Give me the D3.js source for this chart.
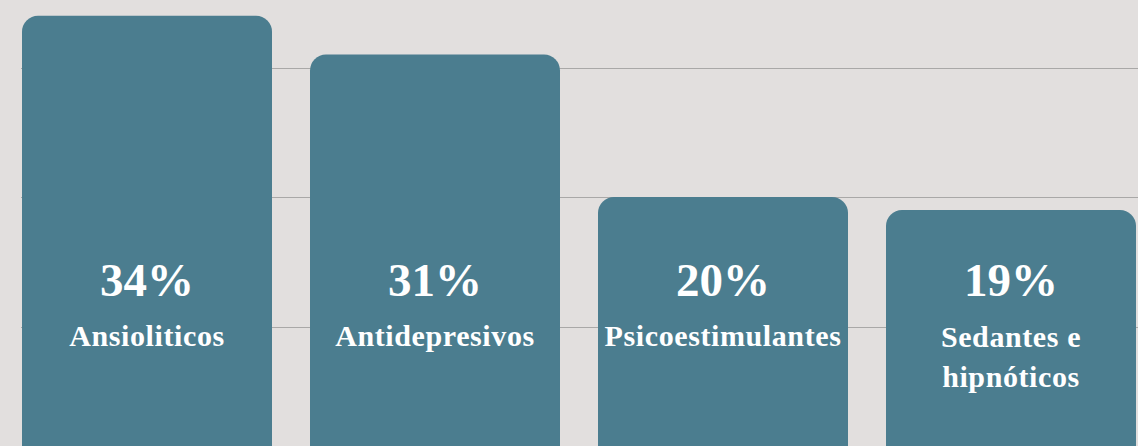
<!DOCTYPE html>
<html><head><meta charset="utf-8">
<script src="https://cdn.jsdelivr.net/npm/d3@7"></script>
<style>html,body{margin:0;padding:0;background:#e2dfde;overflow:hidden}</style>
</head><body>
<svg id="c" width="1138" height="446"></svg>
<script>
const categories = ["Ansioliticos", "Antidepresivos", "Psicoestimulantes", "Sedantes e hipnóticos"];
const labelLines = [["Ansioliticos"], ["Antidepresivos"], ["Psicoestimulantes"], ["Sedantes e", "hipnóticos"]];
const values = [34, 31, 20, 19];
const gridTicks = [10, 20, 30];

const svg = d3.select("#c");
const W = 1138, H = 446;
svg.append("rect").attr("width", W).attr("height", H).attr("fill", "#e2dfde");

const x = d3.scaleBand().domain(categories).range([22, 1136]).paddingInner(38/288).paddingOuter(0);
const y = d3.scaleLinear().domain([0, 35]).range([456, 456 - 35*12.95]);

svg.append("g").selectAll("line").data(gridTicks).join("line")
  .attr("x1", 21).attr("x2", W)
  .attr("y1", d => Math.round(y(d)) + 0.5).attr("y2", d => Math.round(y(d)) + 0.5)
  .attr("stroke", "#a9a8a7").attr("stroke-width", 1);

const data = categories.map((c, i) => ({c, v: values[i], lines: labelLines[i]}));

svg.append("g").selectAll("rect").data(data).join("rect")
  .attr("x", d => x(d.c)).attr("width", x.bandwidth())
  .attr("y", d => y(d.v)).attr("height", d => y(0) - y(d.v) + 30)
  .attr("rx", 16).attr("ry", 16)
  .attr("fill", "#4b7d8f");

const font = "'Liberation Serif', 'DejaVu Serif', serif";
const g = svg.append("g").attr("fill", "#ffffff").attr("font-family", font).attr("font-weight", "bold").attr("text-anchor", "middle");
g.selectAll("text.pct").data(data).join("text").attr("class", "pct")
  .attr("x", d => x(d.c) + x.bandwidth()/2).attr("y", 296)
  .attr("font-size", 47)
  .text(d => d.v + "%");

data.forEach(d => {
  d.lines.forEach((ln, j) => {
    g.append("text")
      .attr("x", x(d.c) + x.bandwidth()/2)
      .attr("y", (d.lines.length > 1 ? 347 : 346) + j*40)
      .attr("font-size", 30)
      .attr("letter-spacing", 0.6)
      .text(ln);
  });
});
</script>
</body></html>
